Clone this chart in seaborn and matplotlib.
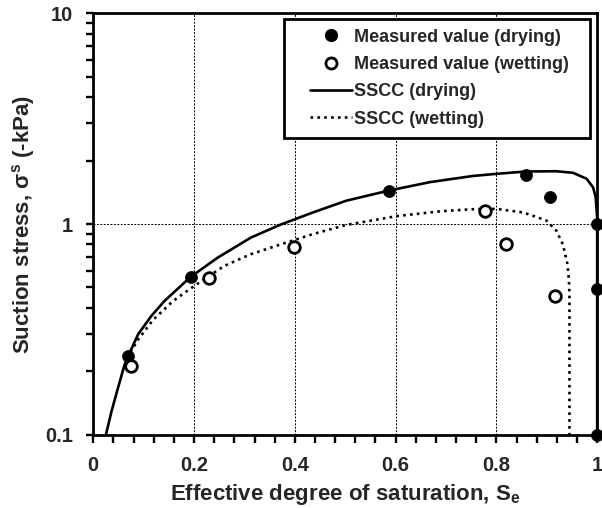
import matplotlib
matplotlib.use("Agg")
import matplotlib.pyplot as plt
from matplotlib.ticker import FixedLocator, FixedFormatter, LogLocator, NullFormatter, MultipleLocator
from matplotlib.lines import Line2D
from matplotlib.patches import Rectangle
import pandas as pd
import seaborn as sns

# Measured suction stress (kPa) against effective degree of saturation
dry_se = [0.069, 0.193, 0.586, 0.858, 0.906, 1.0, 1.0, 1.0]
dry_ss = [0.236, 0.561, 1.44, 1.71, 1.35, 1.0, 0.49, 0.10]
wet_se = [0.075, 0.229, 0.398, 0.778, 0.820, 0.917]
wet_ss = [0.211, 0.557, 0.780, 1.157, 0.800, 0.456]

# Suction stress characteristic curves
sscc_dry_se = [0.025, 0.036, 0.049, 0.062, 0.069, 0.089, 0.115, 0.141, 0.193,
               0.247, 0.313, 0.370, 0.436, 0.502, 0.586, 0.668, 0.753, 0.800,
               0.859, 0.919, 0.952, 0.979, 0.992, 0.997, 1.0, 1.0]
sscc_dry_ss = [0.100, 0.129, 0.167, 0.215, 0.236, 0.300, 0.366, 0.431, 0.561,
               0.693, 0.863, 0.990, 1.135, 1.29, 1.44, 1.58, 1.69, 1.73,
               1.775, 1.78, 1.75, 1.64, 1.49, 1.34, 1.07, 0.100]
sscc_wet_se = [0.066, 0.090, 0.118, 0.158, 0.200, 0.260, 0.313, 0.375, 0.436,
               0.502, 0.602, 0.690, 0.750, 0.800, 0.853, 0.899, 0.919, 0.932,
               0.941, 0.944, 0.945, 0.945]
sscc_wet_ss = [0.232, 0.285, 0.350, 0.431, 0.508, 0.633, 0.720, 0.805, 0.896,
               0.990, 1.09, 1.15, 1.175, 1.18, 1.135, 1.04, 0.930, 0.800,
               0.645, 0.537, 0.447, 0.100]

x_ticks = [0, 0.2, 0.4, 0.6, 0.8, 1.0]
x_tick_labels = ["0", "0.2", "0.4", "0.6", "0.8", "1"]
y_ticks = [0.1, 1, 10]
y_tick_labels = ["0.1", "1", "10"]

sns.set_style("ticks")
plt.rcParams["font.family"] = ["Liberation Sans", "DejaVu Sans"]
plt.rcParams["font.weight"] = "bold"
plt.rcParams["mathtext.fontset"] = "custom"
plt.rcParams["mathtext.rm"] = "Liberation Sans:bold"
plt.rcParams["mathtext.it"] = "Liberation Sans:bold"
plt.rcParams["mathtext.bf"] = "Liberation Sans:bold"
plt.rcParams["mathtext.default"] = "bf"

fig = plt.figure(figsize=(6.02, 5.08), dpi=100)
ax = fig.add_axes([0.155, 0.144, 0.837, 0.830])

dry_curve = pd.DataFrame({"se": sscc_dry_se, "ss": sscc_dry_ss})
wet_curve = pd.DataFrame({"se": sscc_wet_se, "ss": sscc_wet_ss})
dry_pts = pd.DataFrame({"se": dry_se, "ss": dry_ss})
wet_pts = pd.DataFrame({"se": wet_se, "ss": wet_ss})

dot_style = (0, (1, 1.6))
sns.lineplot(data=dry_curve, x="se", y="ss", sort=False, estimator=None,
             color="black", linewidth=1.9, ax=ax, zorder=3)
sns.lineplot(data=wet_curve, x="se", y="ss", sort=False, estimator=None,
             color="black", linewidth=1.9, linestyle=dot_style, ax=ax, zorder=3)
sns.scatterplot(data=dry_pts, x="se", y="ss", color="black", s=75,
                edgecolor="black", linewidth=0.5, ax=ax, zorder=5, clip_on=False)
sns.scatterplot(data=wet_pts, x="se", y="ss", facecolor="white", s=70,
                edgecolor="black", linewidth=2.0, ax=ax, zorder=5, clip_on=False)

ax.set_yscale("log")
ax.set_xlim(0, 1)
ax.set_ylim(0.1, 10)

ax.grid(True, which="major", color="black", linestyle=(0, (2, 1.5)), linewidth=0.7)
for sp in ax.spines.values():
    sp.set_linewidth(2.0)
    sp.set_color("black")
    sp.set_visible(True)

ax.set_xlabel("Effective degree of saturation, S$_e$", fontsize=16,
              fontweight="bold", labelpad=5)
ax.set_ylabel("Suction stress, σ$^s$ (-kPa)", fontsize=16,
              fontweight="bold", labelpad=6)

# Tick positions and labels
ax.xaxis.set_major_locator(FixedLocator(x_ticks))
ax.xaxis.set_major_formatter(FixedFormatter(x_tick_labels))
ax.xaxis.set_minor_locator(MultipleLocator(0.04))
ax.xaxis.set_minor_formatter(NullFormatter())
ax.yaxis.set_major_locator(FixedLocator(y_ticks))
ax.yaxis.set_major_formatter(FixedFormatter(y_tick_labels))
ax.yaxis.set_minor_locator(LogLocator(base=10, subs=range(2, 10)))
ax.yaxis.set_minor_formatter(NullFormatter())

ax.xaxis.set_tick_params(which="both", bottom=True, top=False, direction="out",
                         length=6, width=1.7, color="black",
                         labelsize=14.5, pad=9.5)
ax.yaxis.set_tick_params(which="both", left=True, right=False, direction="out",
                         length=5, width=1.7, color="black",
                         labelsize=14.5, pad=9.5)
for lab in ax.get_xticklabels() + ax.get_yticklabels():
    lab.set_fontweight("bold")

# axis artists (ticks, grid) drawn just under the curves and markers
ax.set_axisbelow(False)
ax.xaxis.set_zorder(2.6)
ax.yaxis.set_zorder(2.6)

# Legend: a framed box with the entries set towards its left side
ax.add_patch(Rectangle((0.378, 0.705), 0.607, 0.281, transform=ax.transAxes,
                       facecolor="white", edgecolor="black", linewidth=2.0,
                       zorder=6))
handles = [
    Line2D([], [], linestyle="none", marker="o", markersize=8.5,
           markerfacecolor="black", markeredgecolor="black"),
    Line2D([], [], linestyle="none", marker="o", markersize=8,
           markerfacecolor="white", markeredgecolor="black", markeredgewidth=2.0),
    Line2D([], [], color="black", linewidth=1.9),
    Line2D([], [], color="black", linewidth=1.9, linestyle=dot_style),
]
labels = ["Measured value (drying)", "Measured value (wetting)",
          "SSCC (drying)", "SSCC (wetting)"]
leg = ax.legend(handles, labels, loc="upper left", bbox_to_anchor=(0.430, 0.963),
                fontsize=13, frameon=False, handlelength=2.33,
                handletextpad=0.1, labelspacing=0.57, borderpad=0.0,
                borderaxespad=0.0)
leg.set_zorder(7)
for t in leg.get_texts():
    t.set_fontweight("bold")

fig.savefig("out.png", dpi=100)
